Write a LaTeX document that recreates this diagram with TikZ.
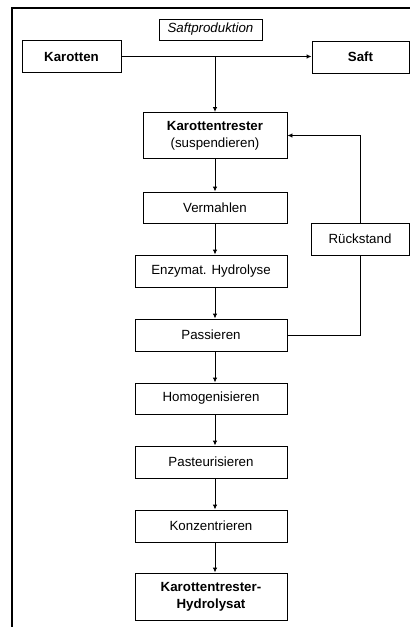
\documentclass[tikz,border=0pt]{standalone}
\usepackage{fontspec}
\setmainfont{Liberation Sans}
\usetikzlibrary{arrows.meta,calc}
\begin{document}
\begin{tikzpicture}[x=1pt,y=-1pt,
  box/.style={draw, line width=0.9pt, inner sep=0pt, align=center,
    font=\fontsize{13.3}{17}\selectfont},
  conn/.style={line width=0.9pt},
  arr/.style={line width=0.9pt, -{Latex[length=5pt,width=4.5pt]}}]
\useasboundingbox (0,0) rectangle (410,627);
% frame
\draw[line width=1.1pt] (12,627) -- (12,8) -- (410,8);
% nodes
\node[box, minimum width=103, minimum height=21] (saftprod) at (210.5,29.5) {\itshape Saftproduktion};
\node[box, minimum width=99, minimum height=32] (karotten) at (71.5,56.5) {\bfseries Karotten};
\node[box, minimum width=97, minimum height=32] (saft) at (360.5,57) {\bfseries Saft};
\node[box, minimum width=144, minimum height=46] (trester) at (215,135.5) {\textbf{Karottentrester}\\(suspendieren)};
\node[box, minimum width=144, minimum height=31] (vermahlen) at (215,207.5) {Vermahlen};
\node[box, minimum width=152, minimum height=32] (enzym) at (211,271) {Enzymat. Hydrolyse};
\node[box, minimum width=152, minimum height=32] (passieren) at (211,335) {Passieren};
\node[box, minimum width=152, minimum height=31] (homog) at (211,398.5) {Homogenisieren};
\node[box, minimum width=152, minimum height=32] (pasteur) at (211,462) {Pasteurisieren};
\node[box, minimum width=152, minimum height=32] (konz) at (211,526) {Konzentrieren};
\node[box, minimum width=152, minimum height=47] (hydro) at (211,596.5) {\bfseries Karottentrester-\\\bfseries Hydrolysat};
\node[box, minimum width=98, minimum height=32] (rueck) at (360,239) {Rückstand};
\coordinate (jx) at (trester.north |- karotten.east);
% connectors
\draw[arr] (karotten.east) -- (saft.west |- karotten.east);
\draw[arr] (jx) -- (trester.north);
\draw[arr] (trester.south) -- (vermahlen.north);
\draw[arr] (vermahlen.south) -- (vermahlen.south |- enzym.north);
\draw[arr] (vermahlen.south |- enzym.south) -- (vermahlen.south |- passieren.north);
\draw[arr] (vermahlen.south |- passieren.south) -- (vermahlen.south |- homog.north);
\draw[arr] (vermahlen.south |- homog.south) -- (vermahlen.south |- pasteur.north);
\draw[arr] (vermahlen.south |- pasteur.south) -- (vermahlen.south |- konz.north);
\draw[arr] (vermahlen.south |- konz.south) -- (vermahlen.south |- hydro.north);
\draw[conn] (passieren.east) -- (rueck.south |- passieren.east) -- (rueck.south);
\draw[arr] (rueck.north) -- (rueck.north |- trester.east) -- (trester.east);
\end{tikzpicture}
\end{document}
